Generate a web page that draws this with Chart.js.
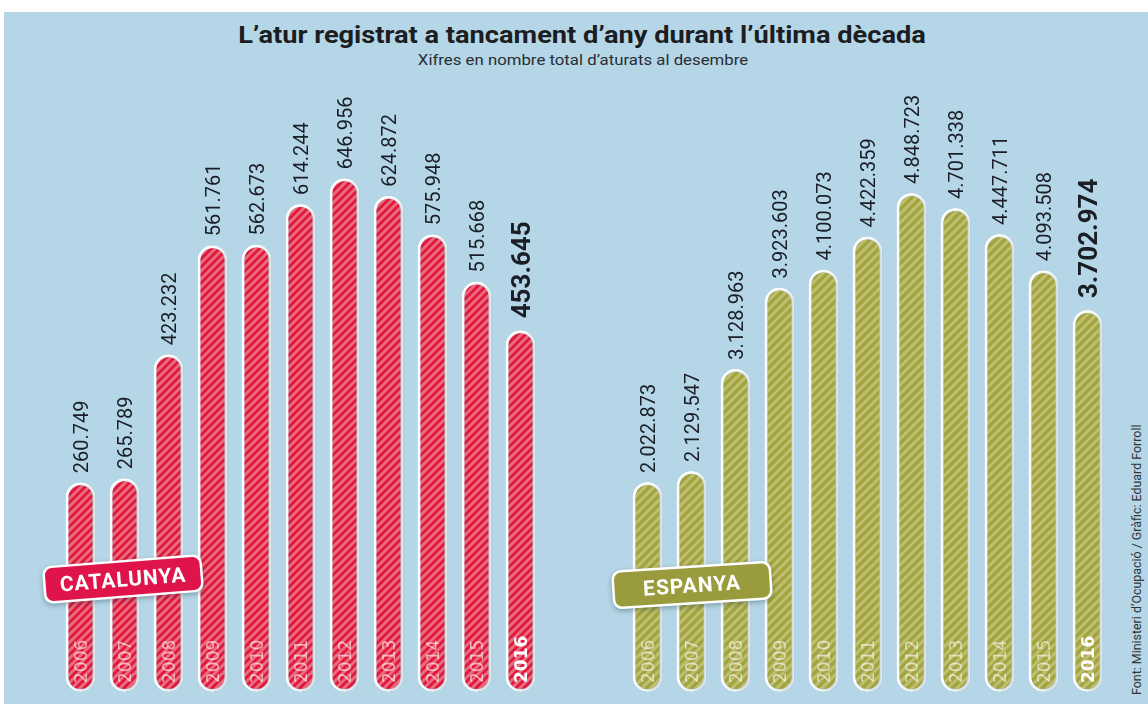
<!DOCTYPE html>
<html>
<head>
<meta charset="utf-8">
<script src="https://cdn.jsdelivr.net/npm/chart.js@4.4.0/dist/chart.umd.min.js"></script>
<style>
  html, body { margin: 0; padding: 0; background: #fff; }
  #wrap { position: relative; width: 1148px; height: 704px; overflow: hidden; }
  #panel { position: absolute; left: 4px; top: 12px; right: 0; bottom: 0; background: #b4d6e6; }
  .txt { position: absolute; white-space: nowrap; color: #1b1d22; font-family: Roboto, sans-serif; }
  #title { left: 582px; top: 21px; font-size: 24px; font-weight: 700; line-height: 28px; transform-origin: 50% 50%; }
  #subtitle { left: 583px; top: 51px; font-size: 15px; line-height: 18px; color: #2a2d33; }
  #source { left: 1130px; top: 695px; font-size: 12px; line-height: 14px; color: #333; transform-origin: 0 0; }
  canvas { position: absolute; top: 0; }
  #catChart { left: 0; }
  #espChart { left: 574px; }
</style>
</head>
<body>
<div id="wrap">
  <div id="panel"></div>
  <div class="txt" id="title">L’atur registrat a tancament d’any durant l’última dècada</div>
  <div class="txt" id="subtitle">Xifres en nombre total d’aturats al desembre</div>
  <div class="txt" id="source">Font: Ministeri d’Ocupació / Gràfic: Eduard Forroll</div>
  <canvas id="catChart" width="574" height="704"></canvas>
  <canvas id="espChart" width="574" height="704"></canvas>
</div>
<script>
const years = ['2006', '2007', '2008', '2009', '2010', '2011', '2012', '2013', '2014', '2015', '2016'];
const catalunya = [260749, 265789, 423232, 561761, 562673, 614244, 646956, 624872, 575948, 515668, 453645];
const espanya = [2022873, 2129547, 3128963, 3923603, 4100073, 4422359, 4848723, 4701338, 4447711, 4093508, 3702974];

// squeeze/stretch the header texts to the widths in the original
function fitWidth(id, target, extra) {
  const el = document.getElementById(id);
  const w = el.offsetWidth;
  el.style.transform = (extra || '') + ' scaleX(' + (target / w) + ')';
}
fitWidth('title', 688, 'translateX(-50%)');
fitWidth('subtitle', 330, 'translateX(-50%)');
fitWidth('source', 270, 'rotate(-90deg)');

function stripes(base, stripe, size, lw) {
  const c = document.createElement('canvas');
  c.width = c.height = size;
  const g = c.getContext('2d');
  g.fillStyle = base;
  g.fillRect(0, 0, size, size);
  g.strokeStyle = stripe;
  g.lineWidth = lw;
  g.beginPath();
  g.moveTo(-1, size + 1); g.lineTo(size + 1, -1);
  g.moveTo(-2, 2); g.lineTo(2, -2);
  g.moveTo(size - 2, size + 2); g.lineTo(size + 2, size - 2);
  g.stroke();
  return g.createPattern(c, 'repeat');
}

function fmt(v) {
  return String(v).replace(/\B(?=(\d{3})+(?!\d))/g, '.');
}

const barLabels = {
  id: 'barLabels',
  beforeDatasetsDraw(chart) {
    const ctx = chart.ctx;
    ctx.save();
    ctx.shadowColor = 'rgba(30,70,95,0.28)';
    ctx.shadowBlur = 4;
    ctx.shadowOffsetX = 2;
    ctx.shadowOffsetY = 1;
  },
  afterDatasetsDraw(chart) {
    const ctx = chart.ctx;
    ctx.restore();
    const data = chart.data.datasets[0].data;
    const meta = chart.getDatasetMeta(0);
    meta.data.forEach((bar, i) => {
      const last = i === data.length - 1;
      // value above the bar
      const size = last ? 26 : 20;
      ctx.save();
      ctx.translate(bar.x, bar.y - (last ? 12 : 9));
      ctx.rotate(-Math.PI / 2);
      ctx.font = (last ? 'bold ' : '') + size + 'px Roboto';
      ctx.fillStyle = '#1b1e26';
      ctx.textAlign = 'left';
      ctx.textBaseline = 'alphabetic';
      ctx.fillText(fmt(data[i]), 0, size * 0.355);
      ctx.restore();
      // year inside the bar foot
      ctx.save();
      ctx.translate(bar.x, bar.base - 9);
      ctx.rotate(-Math.PI / 2);
      ctx.font = (last ? 'bold ' : '') + '17px "DejaVu Sans"';
      ctx.fillStyle = last ? '#ffffff' : 'rgba(255,255,255,0.62)';
      ctx.textAlign = 'left';
      ctx.textBaseline = 'alphabetic';
      ctx.fillText(chart.data.labels[i], 0, 6);
      ctx.restore();
    });
  }
};

const badge = {
  id: 'badge',
  afterDraw(chart, args, o) {
    const ctx = chart.ctx;
    ctx.save();
    ctx.translate(o.x, o.y);
    ctx.rotate(o.angle * Math.PI / 180);
    ctx.shadowColor = 'rgba(20,50,70,0.35)';
    ctx.shadowBlur = 5;
    ctx.shadowOffsetY = 2;
    ctx.fillStyle = '#ffffff';
    ctx.beginPath();
    ctx.roundRect(-o.w / 2, -o.h / 2, o.w, o.h, 9);
    ctx.fill();
    ctx.shadowColor = 'transparent';
    ctx.fillStyle = o.color;
    ctx.beginPath();
    ctx.roundRect(-o.w / 2 + 2.5, -o.h / 2 + 2.5, o.w - 5, o.h - 5, 7);
    ctx.fill();
    ctx.fillStyle = '#ffffff';
    ctx.font = 'bold 21px Roboto';
    ctx.letterSpacing = '1px';
    ctx.textAlign = 'center';
    ctx.textBaseline = 'alphabetic';
    ctx.fillText(o.text, 0, 7.5);
    ctx.restore();
  }
};

function makeChart(id, values, fill, yMin, yMax, pad, badgeOpts) {
  return new Chart(document.getElementById(id), {
    type: 'bar',
    data: {
      labels: years,
      datasets: [{
        data: values,
        base: yMin,
        backgroundColor: fill,
        borderColor: '#ffffff',
        borderWidth: 3,
        borderRadius: 16,
        borderSkipped: false,
        barPercentage: 0.68,
        categoryPercentage: 1
      }]
    },
    options: {
      responsive: false,
      animation: false,
      layout: { padding: pad },
      plugins: {
        legend: { display: false },
        tooltip: { enabled: false },
        badge: badgeOpts
      },
      scales: {
        x: { display: false, offset: true },
        y: { display: false, min: yMin, max: yMax }
      }
    },
    plugins: [barLabels, badge]
  });
}

makeChart('catChart', catalunya, stripes('#e1173f', '#ea6f7e', 8, 2.8), -6000, 771852,
  { left: 58.5, right: 31.5, top: 80, bottom: 12 },
  { x: 123, y: 579, w: 160, h: 38, angle: -4.5, color: '#de144a', text: 'CATALUNYA' });

makeChart('espChart', espanya, stripes('#a2a43f', '#bfbf72', 9, 3), -30000, 5952300,
  { left: 51.5, right: 38.5, top: 80, bottom: 12 },
  { x: 118, y: 585, w: 160, h: 39, angle: -3.7, color: '#9a9b3d', text: 'ESPANYA' });
</script>
</body>
</html>
